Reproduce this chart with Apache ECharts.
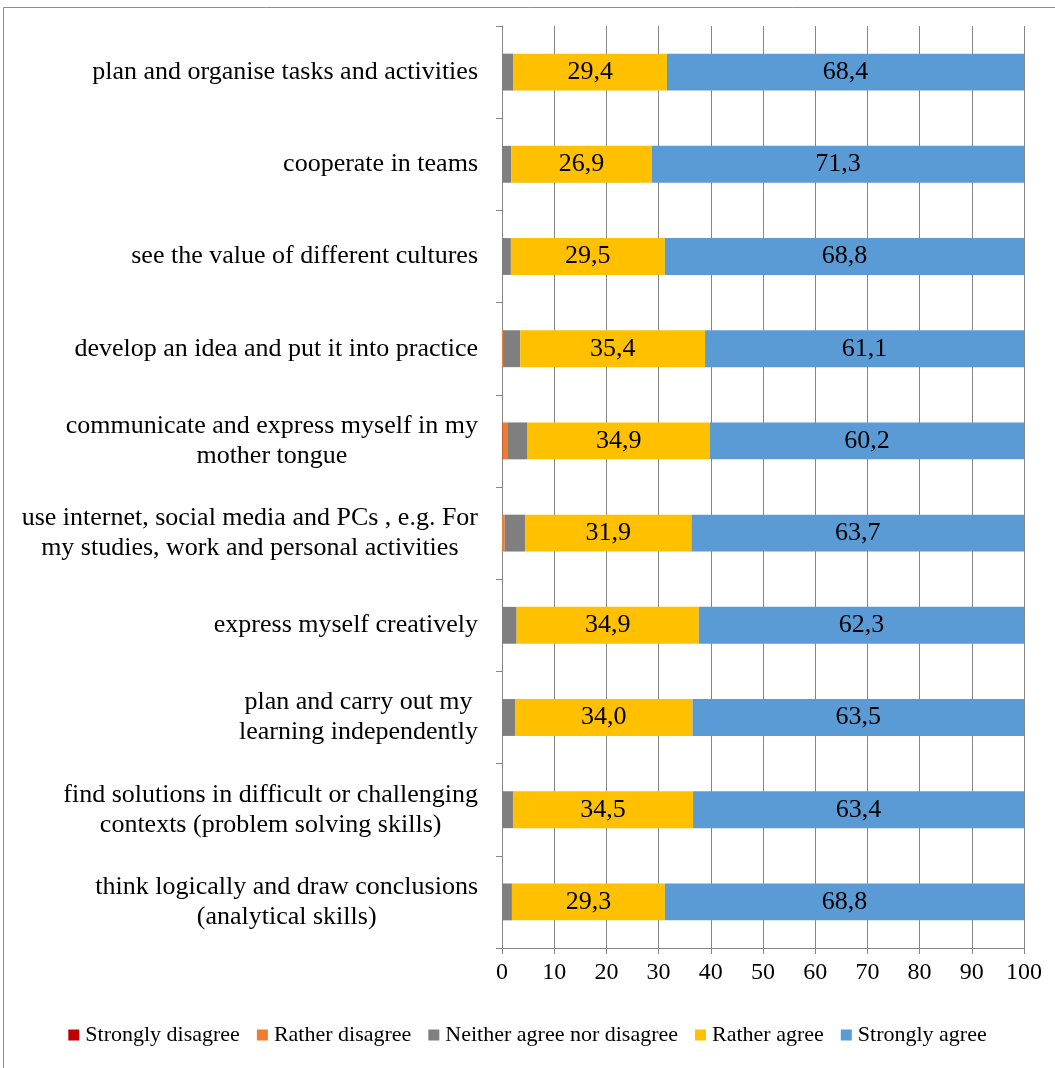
<!DOCTYPE html>
<html>
<head>
<meta charset="utf-8">
<script src="https://cdn.jsdelivr.net/npm/echarts@6/dist/echarts.min.js"></script>
<style>
  html, body { margin: 0; padding: 0; background: #fff; }
  #chart { width: 1055px; height: 1068px; }
</style>
</head>
<body>
<div id="chart"></div>
<script>
// categories, top to bottom
const categories = [
  'plan and organise tasks and activities',
  'cooperate in teams',
  'see the value of different cultures',
  'develop an idea and put it into practice',
  'communicate and express myself in my\nmother tongue',
  'use internet, social media and PCs , e.g. For\nmy studies, work and personal activities',
  'express myself creatively',
  'plan and carry out my\nlearning independently',
  'find solutions in difficult or challenging\ncontexts (problem solving skills)',
  'think logically and draw conclusions\n(analytical skills)'
]

const stronglyDisagree = [0, 0, 0, 0, 0.1, 0, 0, 0, 0, 0]
const ratherDisagree   = [0, 0, 0, 0.2, 0.9, 0.5, 0, 0, 0, 0]
const neither          = [2.2, 1.8, 1.7, 3.3, 3.9, 3.9, 2.8, 2.5, 2.1, 1.9]
const ratherAgree      = [29.4, 26.9, 29.5, 35.4, 34.9, 31.9, 34.9, 34.0, 34.5, 29.3]
const stronglyAgree    = [68.4, 71.3, 68.8, 61.1, 60.2, 63.7, 62.3, 63.5, 63.4, 68.8]

const xTicks = [0, 10, 20, 30, 40, 50, 60, 70, 80, 90, 100]

const serif = '"Liberation Serif", "Times New Roman", serif'

const chart = echarts.init(document.getElementById('chart'))

const fmt = p => p.value.toFixed(1).replace('.', ',')

const mk = (name, data, color, showLabel) => ({
  name,
  type: 'bar',
  stack: 'total',
  barWidth: '40%',
  data,
  itemStyle: { color },
  label: {
    show: showLabel,
    position: 'inside',
    formatter: fmt,
    color: '#000',
    fontFamily: serif,
    fontSize: 26
  }
})

const option = {
  backgroundColor: '#fff',
  animation: false,
  textStyle: { fontFamily: serif },
  graphic: [{
    type: 'rect',
    shape: { x: 3.5, y: 7.5, width: 1200, height: 1200 },
    style: { fill: 'none', stroke: '#8c8c8c', lineWidth: 1 },
    silent: true
  }],
  grid: { left: 502, right: 31, top: 26, bottom: 120 },
  xAxis: {
    type: 'value',
    min: 0,
    max: 100,
    interval: 10,
    axisLine: { show: true, lineStyle: { color: '#868686', width: 1 } },
    axisTick: { show: true, length: 6, lineStyle: { color: '#868686' } },
    splitLine: { show: true, lineStyle: { color: '#868686', width: 1 } },
    axisLabel: {
      color: '#000',
      fontFamily: serif,
      fontSize: 24,
      margin: 13,
      formatter: v => xTicks.includes(v) ? String(v) : ''
    }
  },
  yAxis: {
    type: 'category',
    inverse: true,
    data: categories,
    axisLine: { show: true, lineStyle: { color: '#868686', width: 1 } },
    axisTick: { show: true, length: 6, lineStyle: { color: '#868686' } },
    axisLabel: {
      color: '#000',
      fontFamily: serif,
      fontSize: 26,
      lineHeight: 30,
      margin: 24,
      formatter: v => v.split('\n').map(l => '{c|' + l + '}').join('\n'),
      rich: {
        c: { align: 'center', fontFamily: serif, fontSize: 26, lineHeight: 30, color: '#000' }
      }
    }
  },
  legend: {
    bottom: 17,
    left: 'center',
    itemWidth: 11,
    itemHeight: 11,
    itemGap: 17,
    icon: 'rect',
    textStyle: { color: '#000', fontFamily: serif, fontSize: 22, padding: [0, 0, 0, 1] }
  },
  series: [
    mk('Strongly disagree', stronglyDisagree, '#C00000', false),
    mk('Rather disagree', ratherDisagree, '#ED7D31', false),
    mk('Neither agree nor disagree', neither, '#7F7F7F', false),
    mk('Rather agree', ratherAgree, '#FFC000', true),
    mk('Strongly agree', stronglyAgree, '#5B9BD5', true)
  ]
}

chart.setOption(option)
window.addEventListener('resize', () => chart.resize())
</script>
</body>
</html>
